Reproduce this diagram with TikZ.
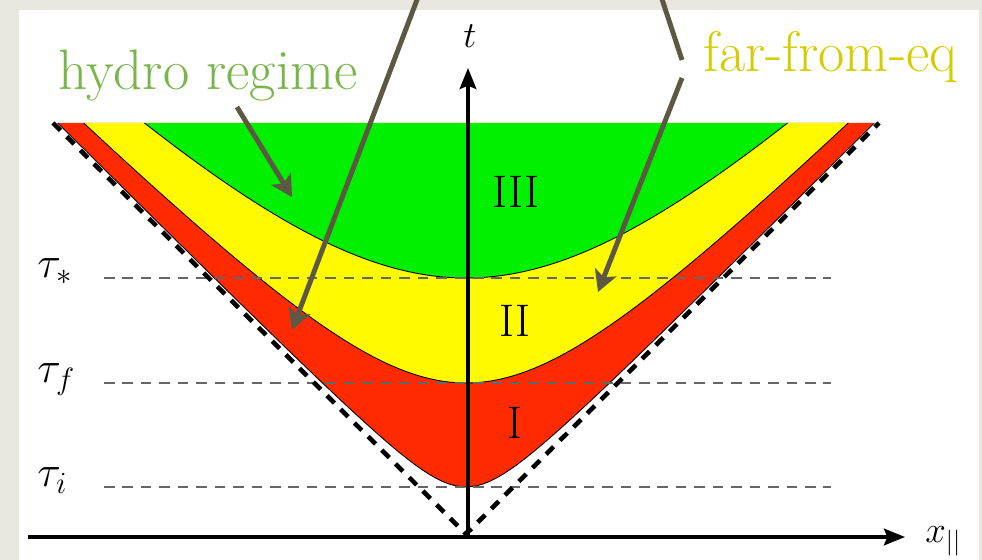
\RequirePackage{fix-cm}
\documentclass[tikz,border=0pt]{standalone}
\usepackage{amsmath}
\usepackage{tikz}
\usetikzlibrary{arrows.meta, positioning}

\definecolor{paper}{HTML}{E9E7DF}
\definecolor{regI}{HTML}{FF2A00}
\definecolor{regII}{HTML}{FFFA00}
\definecolor{regIII}{HTML}{00F000}
\definecolor{hydrogreen}{HTML}{78B64A}
\definecolor{faryellow}{HTML}{D4CD00}
\definecolor{pointerbrown}{HTML}{5C5843}

\begin{document}
\begin{tikzpicture}[
    x=0.02cm, y=0.02cm,
    every node/.style={inner sep=0pt},
    mathlbl/.style={font=\fontsize{21}{25}\selectfont},
    taulbl/.style={font=\fontsize{25}{30}\selectfont, anchor=base west},
    numeral/.style={font=\fontsize{26}{30}\selectfont, anchor=base},
    callout/.style={font=\fontsize{32.5}{38}\selectfont, anchor=base west},
    edge/.style={black, line width=0.5pt},
    guide/.style={black!60, line width=0.8pt, dash pattern=on 6pt off 4.5pt},
    cone/.style={black, line width=2.6pt, dash pattern=on 6pt off 5pt},
    axis/.style={black, line width=2pt, -{Stealth[length=12pt, width=9.5pt, inset=2pt]}},
    pointer/.style={pointerbrown, line width=2.8pt, -{Stealth[length=12pt, width=13pt, inset=3pt]}},
    plain/.style={pointerbrown, line width=2.8pt}
]

% Page
\fill[paper] (-466,-26) rectangle (516,534);
\fill[white] (-447,-26) rectangle (513,524);
\useasboundingbox (-466,-26) rectangle (516,534);

% Regions I, II, III (hyperbolae t^2 - x^2 = tau^2)
\foreach \tval/\xmax/\col in {0.47/408.3/regI, 1.51/382.3/regII, 2.56/321.5/regIII}{
  \fill[\col] plot[domain=-\xmax:\xmax, samples=120] (\x,{100*sqrt((\x/100)^2+\tval^2)}) -- cycle;
  \draw[edge] plot[domain=-\xmax:\xmax, samples=120] (\x,{100*sqrt((\x/100)^2+\tval^2)});
}

% Proper-time levels
\coordinate (stL) at (-362,256); \coordinate (stR) at (365,256);
\coordinate (fL) at (-362,151);  \coordinate (fR) at (365,151);
\coordinate (iL) at (-362,47);   \coordinate (iR) at (365,47);
\draw[guide] (stL) -- (stR);
\draw[guide] (fL) -- (fR);
\draw[guide] (iL) -- (iR);

\node[taulbl] (taustar) at (-429,256) {$\tau_*$};
\node[taulbl] (tauf) at (-429,151) {$\tau_f$};
\node[taulbl] (taui) at (-429,47) {$\tau_i$};

% Light cone
\coordinate (apex) at (0,0);
\coordinate (coneL) at (-413,411);
\coordinate (coneR) at (413,411);
\draw[cone] (coneL) -- (apex) -- (coneR);

% Axes
\coordinate (xstart) at (-438,-3);
\coordinate (xend) at (439,-3);
\coordinate (tstart) at (2,-3);
\coordinate (tend) at (2,466);
\draw[axis] (xstart) -- (xend);
\draw[axis] (tstart) -- (tend);
\node[mathlbl, anchor=base] (tlab) at (4,486) {$t$};
\node[mathlbl, anchor=base west] (xlab) at (459,-9) {$x_{||}$};

% Region numerals
\node[numeral] (III) at (50,326) {III};
\node[numeral] (II) at (49,197) {II};
\node[numeral] (I) at (49,95) {I};

% Callouts
\node[callout, text=hydrogreen] (hydro) at (-408,444) {hydro regime};
\node[callout, text=faryellow] (far) at (237,462) {far-from-eq};

\coordinate (hydroTail) at (-229,427);
\coordinate (hydroTip) at (-174,337);
\draw[pointer] (hydroTail) -- (hydroTip);

\coordinate (longTop) at (-43,550);
\coordinate (longTip) at (-174,204);
\draw[pointer] (longTop) -- (longTip);

\coordinate (rTop) at (191,550);
\coordinate (rBend) at (216,474);
\draw[plain] (rTop) -- (rBend);

\coordinate (farTail) at (216,456);
\coordinate (farTip) at (132,242);
\draw[pointer] (farTail) -- (farTip);

\end{tikzpicture}
\end{document}
